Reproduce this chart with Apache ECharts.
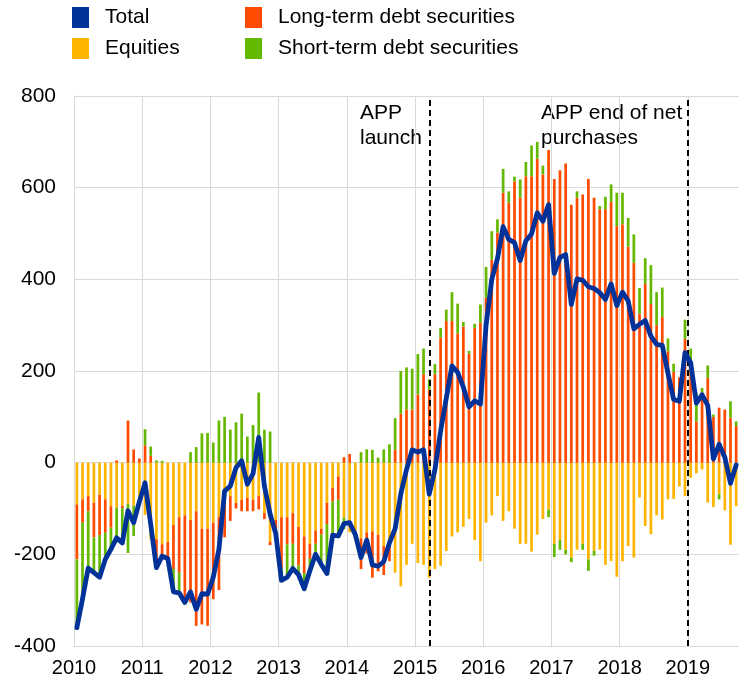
<!DOCTYPE html>
<html>
<head>
<meta charset="utf-8">
<script src="https://cdn.jsdelivr.net/npm/echarts@6/dist/echarts.min.js"></script>
<style>
  html, body { margin: 0; padding: 0; background: #fff; }
  #chart { width: 739px; height: 683px; }
</style>
</head>
<body>
<div id="chart"></div>
<script>
// monthly categories, Jan 2010 .. Sep 2019
const months = []
for (let y = 2010; y <= 2019; y++) {
  for (let m = 1; m <= 12; m++) {
    if (y === 2019 && m > 9) break
    months.push(y + '-' + String(m).padStart(2, '0'))
  }
}

const yearLabels = ['2010', '2011', '2012', '2013', '2014', '2015', '2016', '2017', '2018', '2019']

// EUR billions, 12-month flows
const equities = [
  -91, -80, -73, -87, -70, -80, -95, -98, -94, -90, -94, -95,
  -114, -167, -167, -178, -173, -136, -119, -115, -125, -106, -144, -144,
  -131, -119, -60, -73, -88, -81, -77, -81, -73, -110, -172, -125,
  -119, -119, -110, -140, -161, -177, -148, -144, -88, -55, -30, -120,
  -152, -157, -165, -152, -150, -157, -182, -177, -240, -270, -223, -177,
  -219, -223, -251, -232, -225, -193, -161, -152, -140, -123, -169, -215,
  -131, -115, -73, -127, -106, -144, -177, -177, -194, -157, -123, -102,
  -177, -169, -190, -207, -190, -177, -211, -192, -190, -223, -215, -249,
  -215, -182, -207, -76, -138, -156, -115, -124, -80, -79, -52, -73,
  -33, -23, -15, -87, -97, -69, -104, -179, -95
]
const longTerm = [
  -120, -51, -33, -76, -88, -73, -47, 5, -5, 92, 29, 9,
  38, 15, -65, -30, -38, -96, -121, -192, -180, -250, -209, -212,
  -167, -159, -103, -54, -12, -25, -29, -25, -29, -13, -8, -30,
  -110, -59, -67, -84, -80, -33, -29, -13, -46, -29, -51, 12,
  19, 0, -67, -46, -101, -80, -63, -38, 28, 107, 116, 116,
  149, 193, 160, 193, 273, 309, 309, 282, 297, 238, 294, 305,
  360, 443, 502, 589, 567, 614, 578, 625, 625, 663, 629, 682,
  619, 638, 653, 563, 578, 585, 619, 578, 553, 553, 569, 516,
  520, 471, 436, 325, 390, 346, 300, 318, 243, 198, 186, 270,
  220, 90, 153, 185, 100, 120, 116, 98, 80
]
const shortTerm = [
  -149, -167, -125, -77, -90, -58, -47, -72, -77, -107, -66, 0,
  35, 20, 5, 4, 0, -50, -46, 0, 23, 34, 64, 65,
  44, 92, 100, 72, 88, 107, 57, 82, 153, 72, 68, 0,
  -28, -72, -54, -20, -34, -26, -25, -65, -104, -73, -80, -25,
  0, 0, 23, 29, 28, 11, 29, 40, 69, 93, 92, 89,
  88, 56, 22, 22, 21, 25, 63, 65, 10, 6, 9, 40,
  67, 62, 29, 52, 25, 10, 40, 31, 67, 37, 19, -17,
  -29, -21, -10, -10, 14, -13, -25, -11, 7, 27, 38, 73,
  69, 63, 62, 56, 56, 85, 72, 64, 28, 18, 0, 42,
  29, 63, 10, 27, 5, -11, 0, 36, 10
]
const total = [
  -360, -297, -230, -240, -250, -211, -189, -164, -175, -105, -131, -85,
  -44, -135, -229, -204, -209, -282, -284, -305, -282, -320, -286, -287,
  -250, -189, -62, -51, -11, 4, -47, -24, 55, -51, -112, -155,
  -257, -250, -231, -244, -275, -236, -200, -222, -242, -158, -160, -133,
  -131, -157, -207, -169, -223, -226, -216, -175, -144, -68, -15, 28,
  23, 28, -69, -15, 69, 141, 211, 197, 165, 122, 135, 128,
  300, 400, 445, 515, 487, 480, 441, 484, 499, 545, 527, 563,
  413, 448, 454, 345, 401, 398, 384, 380, 371, 356, 390, 343,
  372, 353, 292, 302, 310, 276, 258, 256, 195, 138, 134, 240,
  218, 130, 148, 125, 8, 40, 12, -45, -5
]

// event markers, in months from Jan 2010
const appLaunch = 62.66
const appEnd = 108

const FONT = '"Liberation Sans", Arial, sans-serif'
const GRID = '#d9d9d9'
const C_TOTAL = '#003299'
const C_EQ = '#ffb400'
const C_LT = '#ff4b00'
const C_ST = '#65b800'

const chart = echarts.init(document.getElementById('chart'))

// one legend per entry so the two columns line up like the original
const legendItem = (name, left, top) => ({
  data: [name],
  left: left,
  top: top,
  padding: 0,
  icon: 'rect',
  itemWidth: 17,
  itemHeight: 21,
  selectedMode: false,
  textStyle: { fontFamily: FONT, fontSize: 21, color: '#000', padding: [0, 0, 0, 11] },
})

const barBase = {
  type: 'bar',
  stack: 'flows',
  barWidth: 2.7,
  xAxisIndex: 0,
  emphasis: { disabled: true },
}

chart.setOption({
  animation: false,
  textStyle: { fontFamily: FONT },
  grid: { left: 74, right: -3, top: 96, bottom: 37 },
  legend: [
    legendItem('Total', 72, 7),
    legendItem('Long-term debt securities', 245, 7),
    legendItem('Equities', 72, 38),
    legendItem('Short-term debt securities', 245, 38),
  ],
  xAxis: [
    {
      type: 'category',
      data: months,
      show: false,
    },
    {
      type: 'value',
      min: 0,
      max: months.length,
      interval: 12,
      position: 'bottom',
      axisLine: { show: true, lineStyle: { color: GRID, width: 1 } },
      axisTick: { show: false },
      splitLine: { show: true, lineStyle: { color: GRID, width: 1 } },
      axisLabel: {
        showMaxLabel: false,
        color: '#000',
        fontSize: 20,
        fontFamily: FONT,
        margin: 12,
        formatter: (v) => yearLabels[v / 12] || '',
      },
    },
  ],
  yAxis: {
    type: 'value',
    min: -400,
    max: 800,
    interval: 200,
    axisLine: { show: true, lineStyle: { color: GRID, width: 1 } },
    axisTick: { show: false },
    splitLine: { lineStyle: { color: GRID, width: 1 } },
    axisLabel: { color: '#000', fontSize: 21, fontFamily: FONT, margin: 18 },
  },
  series: [
    Object.assign({}, barBase, { name: 'Equities', data: equities, itemStyle: { color: C_EQ } }),
    Object.assign({}, barBase, { name: 'Long-term debt securities', data: longTerm, itemStyle: { color: C_LT } }),
    Object.assign({}, barBase, { name: 'Short-term debt securities', data: shortTerm, itemStyle: { color: C_ST } }),
    {
      name: 'events',
      type: 'line',
      xAxisIndex: 1,
      data: [],
      silent: true,
      markLine: {
        symbol: 'none',
        silent: true,
        label: { show: false },
        lineStyle: { color: '#000', type: [6, 4], width: 2 },
        data: [{ xAxis: appLaunch }, { xAxis: appEnd }],
      },
    },
    {
      name: 'Total',
      type: 'line',
      xAxisIndex: 0,
      data: total,
      showSymbol: false,
      color: C_TOTAL,
      itemStyle: { color: C_TOTAL },
      lineStyle: { color: C_TOTAL, width: 4.8, join: 'round', cap: 'round' },
      emphasis: { disabled: true },
      z: 5,
    },
  ],
  graphic: [
    {
      type: 'text',
      left: 360,
      top: 101,
      style: { text: 'APP\nlaunch', font: '21px ' + FONT, lineHeight: 25, fill: '#000' },
    },
    {
      type: 'text',
      left: 541,
      top: 101,
      style: { text: 'APP end of net\npurchases', font: '21px ' + FONT, lineHeight: 25, fill: '#000' },
    },
  ],
})
</script>
</body>
</html>
